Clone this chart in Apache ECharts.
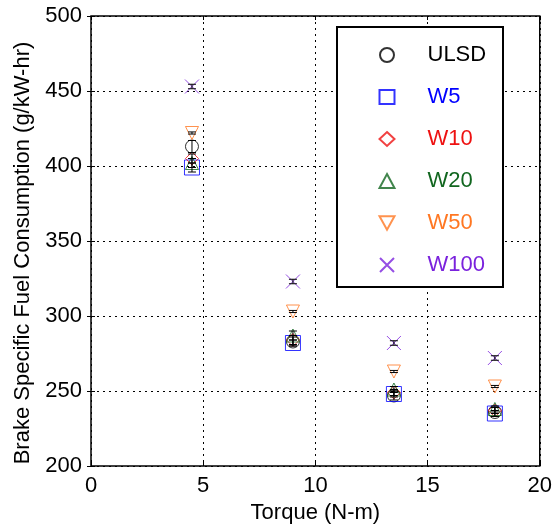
<!DOCTYPE html>
<html>
<head>
<meta charset="utf-8">
<script src="https://cdn.jsdelivr.net/npm/echarts@6/dist/echarts.min.js"></script>
<style>
  html, body { margin: 0; padding: 0; background: #fff; }
  #chart { width: 555px; height: 529px; }
</style>
</head>
<body>
<div id="chart"></div>
<script>
// torque points (N-m)
const torque = [4.5, 9, 13.5, 18]
const seriesNames = ['ULSD', 'W5', 'W10', 'W20', 'W50', 'W100']
// BSFC values (g/kW-hr)
const ulsd = [413, 283, 247, 236]
const w5 = [399, 282, 248, 235]
const w10 = [405, 284, 249, 237]
const w20 = [402, 287, 251, 238]
const w50 = [422, 303, 263, 253]
const w100 = [453, 323, 282, 272]
// error bar half widths
const ulsdErr = [4, 3, 3, 3]
const w5Err = [3, 2, 2, 2]
const w10Err = [3, 3, 2, 2]
const w20Err = [3, 3, 2, 2]
const w50Err = [0.7, 0.7, 0.7, 0.7]
const w100Err = [1.5, 1.5, 1.5, 1.5]

const values = [ulsd, w5, w10, w20, w50, w100]
const errors = [ulsdErr, w5Err, w10Err, w20Err, w50Err, w100Err]
const colors = ['#000000', '#0000ff', '#ee1111', '#11661f', '#ff7722', '#7a22dd']
const symbols = ['circle', 'rect', 'diamond', 'triangle', 'triangle', 'path://M0,0L10,10M10,0L0,10']
const rotates = [0, 0, 0, 0, 180, 0]
const sizes = [13, 15, 13, 13, 13, 14]
// legend icons (W50 is the downward triangle)
const legendIcons = ['circle', 'rect', 'diamond', 'triangle', 'path://M0,0L10,0L5,9Z', 'path://M0,0L10,10M10,0L0,10']

const font = 'Liberation Sans, Arial, sans-serif'

const series = []
seriesNames.forEach((name, i) => {
  series.push({
    name: name,
    type: 'scatter',
    symbol: symbols[i],
    symbolRotate: rotates[i],
    symbolSize: sizes[i],
    itemStyle: { color: 'none', borderColor: colors[i], borderWidth: 1 },
    emphasis: { disabled: true },
    z: 2,
    data: torque.map((t, k) => [t, values[i][k]])
  })
})
// black error bars on top of the markers
seriesNames.forEach((name, i) => {
  series.push({
    type: 'custom',
    z: 3,
    silent: true,
    renderItem: function (params, api) {
      const x = api.value(0)
      const lo = api.coord([x, api.value(1)])
      const hi = api.coord([x, api.value(2)])
      const cap = 4
      const style = { stroke: '#000', lineWidth: 1 }
      return {
        type: 'group',
        children: [
          { type: 'line', shape: { x1: lo[0], y1: lo[1], x2: hi[0], y2: hi[1] }, style: style },
          { type: 'line', shape: { x1: lo[0] - cap, y1: lo[1], x2: lo[0] + cap, y2: lo[1] }, style: style },
          { type: 'line', shape: { x1: hi[0] - cap, y1: hi[1], x2: hi[0] + cap, y2: hi[1] }, style: style }
        ]
      }
    },
    data: torque.map((t, k) => [t, values[i][k] - errors[i][k], values[i][k] + errors[i][k]])
  })
})

const tickLine = { show: true, inside: true, length: 4, lineStyle: { color: '#000' } }
const gridLine = { show: true, lineStyle: { color: '#000', type: [2, 4], width: 1 } }

const myChart = echarts.init(document.getElementById('chart'))
myChart.setOption({
  animation: false,
  textStyle: { fontFamily: font },
  grid: {
    left: 91, right: 14, top: 16, bottom: 63,
    show: true, borderColor: '#000', borderWidth: 1.5
  },
  graphic: [{
    type: 'rect',
    shape: { x: 337, y: 27, width: 166, height: 260 },
    style: { fill: '#fff', stroke: '#000', lineWidth: 2 },
    z: 10
  }],
  legend: {
    orient: 'vertical',
    left: 372,
    top: 39,
    itemWidth: 15,
    itemHeight: 14,
    itemGap: 20,
    z: 11,
    selectedMode: false,
    textStyle: { fontSize: 22, fontFamily: font, padding: [0, 0, 0, 28] },
    data: seriesNames.map((n, i) => ({
      name: n,
      icon: legendIcons[i],
      textStyle: { color: colors[i] }
    }))
  },
  xAxis: [{
    type: 'value',
    min: 0, max: 20, interval: 5,
    name: 'Torque (N-m)',
    nameLocation: 'middle',
    nameGap: 35,
    nameTextStyle: { fontSize: 22, color: '#000' },
    axisLine: { show: false },
    axisTick: tickLine,
    axisLabel: { fontSize: 22, color: '#000', margin: 9 },
    splitLine: gridLine
  }, {
    type: 'value', position: 'top',
    min: 0, max: 20, interval: 5,
    axisLine: { show: false }, axisTick: tickLine,
    axisLabel: { show: false }, splitLine: { show: false }
  }],
  yAxis: [{
    type: 'value',
    min: 200, max: 500, interval: 50,
    name: 'Brake Specific Fuel Consumption (g/kW-hr)',
    nameLocation: 'middle',
    nameGap: 55,
    nameTextStyle: { fontSize: 22, color: '#000', padding: [0, 24, 0, 0] },
    axisLine: { show: false },
    axisTick: tickLine,
    axisLabel: { fontSize: 22, color: '#000', margin: 9 },
    splitLine: gridLine
  }, {
    type: 'value', position: 'right',
    min: 200, max: 500, interval: 50,
    axisLine: { show: false }, axisTick: tickLine,
    axisLabel: { show: false }, splitLine: { show: false }
  }],
  series: series
})
</script>
</body>
</html>
